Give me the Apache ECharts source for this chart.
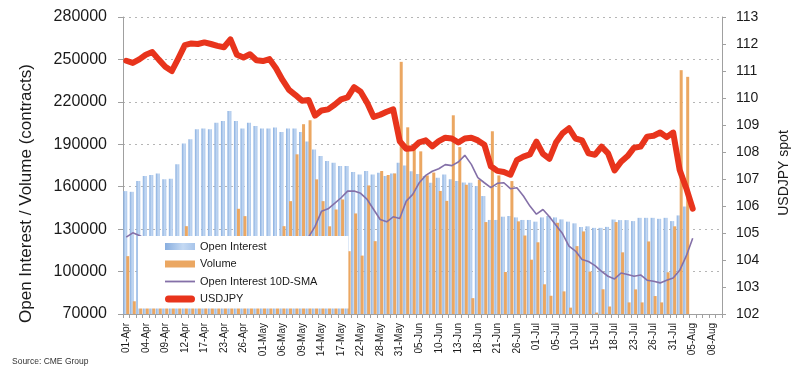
<!DOCTYPE html>
<html>
<head>
<meta charset="utf-8">
<script src="https://cdn.jsdelivr.net/npm/echarts@6/dist/echarts.min.js"></script>
<style>
  html, body { margin: 0; padding: 0; background: #fff; }
  #chart { width: 799px; height: 375px; }
</style>
</head>
<body>
<div id="chart"></div>
<script>
// trading days, 01-Apr .. 09-Aug (Good Friday, Memorial Day, 4th of July excluded)
const dates = [
  '01-Apr','02-Apr','03-Apr','04-Apr','05-Apr','08-Apr','09-Apr','10-Apr','11-Apr','12-Apr',
  '15-Apr','16-Apr','17-Apr','18-Apr','22-Apr','23-Apr','24-Apr','25-Apr','26-Apr','29-Apr','30-Apr',
  '01-May','02-May','03-May','06-May','07-May','08-May','09-May','10-May','13-May','14-May',
  '15-May','16-May','17-May','20-May','21-May','22-May','23-May','24-May','28-May','29-May','30-May','31-May',
  '03-Jun','04-Jun','05-Jun','06-Jun','07-Jun','10-Jun','11-Jun','12-Jun','13-Jun','14-Jun',
  '17-Jun','18-Jun','19-Jun','20-Jun','21-Jun','24-Jun','25-Jun','26-Jun','27-Jun','28-Jun',
  '01-Jul','02-Jul','03-Jul','05-Jul','08-Jul','09-Jul','10-Jul','11-Jul','12-Jul','15-Jul',
  '16-Jul','17-Jul','18-Jul','19-Jul','22-Jul','23-Jul','24-Jul','25-Jul','26-Jul','29-Jul','30-Jul','31-Jul',
  '01-Aug','02-Aug','05-Aug','06-Aug','07-Aug','08-Aug','09-Aug'
];

const openInterest = [
  156900, 156400, 164000, 167500, 168300, 169400, 165200, 165700, 175800, 190500,
  193500, 200600, 201100, 200600, 205300, 206500, 213600, 206500, 201100, 205300, 203000,
  201100, 201100, 201800, 198700, 201100, 201100, 198700, 192000, 186400, 181700,
  178200, 177000, 174600, 174600, 170400, 168700, 171100, 168700, 169900, 167500, 169400, 177000,
  175000, 171000, 169000, 167500, 162800, 166400, 168700, 165200, 164000, 163000,
  162800, 160500, 153400, 136500, 136500, 138800, 139300, 138300, 136500, 136500,
  135300, 138300, 139300, 138300, 136900, 135300, 134100, 131500, 132000, 130900,
  130900, 131600, 136800, 136400, 136400, 135700, 138000, 138000, 138000, 137300, 138000, 135700,
  139700, 146000, null, null, null, null, null
];

const volume = [
  110900, 79000, 92000, 88000, 95000, 90000, 86000, 98000, 104000, 132100,
  96000, 88000, 84000, 91000, 80000, 93000, 102000, 144400, 139200, 97000, 89000,
  100000, 108000, 115000, 132100, 149800, 182900, 204200, 207000, 165200, 149800,
  132000, 143900, 151000, 114400, 141100, 111300, 160900, 121500, 171100, 168300, 169400, 248300,
  202000, 190000, 185000, 168000, 170000, 157000, 150000, 210500, 188000, 161400,
  81200, 165000, 135000, 199200, 168000, 99700, 164000, 135500, 125500, 108400,
  120700, 91000, 82900, 134500, 86000, 74500, 118000, 128400, 100000, 71000,
  87500, 75300, 135000, 113600, 78200, 87400, 78200, 121300, 82700, 78200, 99500, 132000,
  242400, 237700, null, null, null, null, null
];

const oiSma = [
  124300, 127400, 125500, 123000, 121000, 119000, 117000, 115000, 113000, 112000,
  111000, 110000, 109000, 108000, 108000, 107000, 107000, 108000, 109000, 110000, 111000,
  113000, 115000, 117000, 119000, 121000, 122000, 123000, 124300, 132000, 142700,
  144400, 148200, 152200, 156900, 156900, 155300, 151000, 143900, 136800, 135200, 138700, 137500,
  149800, 154600, 162800, 168000, 170900, 172700, 175600, 174900, 177500, 182200,
  175800, 166400, 162800, 159300, 162400, 162800, 158600, 159300, 153400, 146300,
  140600, 143900, 138700, 132800, 126900, 118000, 114500, 108500, 107100, 104200,
  100200, 96700, 94800, 99000, 97900, 96700, 97600, 93900, 93100, 92000, 93900, 95500,
  100900, 110900, 123600, null, null, null, null
];

const usdjpy = [
  111.38, 111.30, 111.43, 111.60, 111.70, 111.42, 111.16, 111.00, 111.47, 111.96,
  112.02, 112.00, 112.06, 112.00, 111.93, 111.88, 112.17, 111.60, 111.50, 111.62, 111.40,
  111.37, 111.44, 111.10, 110.67, 110.30, 110.11, 109.90, 109.93, 109.35, 109.54,
  109.58, 109.75, 109.95, 110.02, 110.40, 110.23, 109.82, 109.30, 109.38, 109.49, 109.58, 108.40,
  108.12, 108.14, 108.36, 108.43, 108.21, 108.40, 108.53, 108.50, 108.35, 108.50,
  108.53, 108.43, 108.27, 107.47, 107.30, 107.26, 107.16, 107.70, 107.83, 107.91,
  108.38, 107.93, 107.75, 108.35, 108.69, 108.88, 108.50, 108.43, 107.95, 107.90,
  108.20, 107.95, 107.32, 107.64, 107.85, 108.16, 108.20, 108.57, 108.60, 108.72, 108.55, 108.72,
  107.33, 106.67, 105.90, null, null, null, null
];

const font = 'Liberation Sans, Arial, sans-serif';
const axisGrey = '#a0a0a0';

// legend icons: thin line for the SMA, pill shaped thick line for USDJPY
const thinLineIcon = 'path://M0,0L0,0M0,2.6L30,2.6L30,4.4L0,4.4ZM30,7L30,7';
const thickLineIcon = 'path://M3.5,0L26.5,0A3.5,3.5 0 0 1 26.5,7L3.5,7A3.5,3.5 0 0 1 3.5,0Z';

const chart = echarts.init(document.getElementById('chart'));

chart.setOption({
  backgroundColor: '#fff',
  animation: false,
  textStyle: { fontFamily: font, color: '#1a1a1a' },
  grid: { left: 123, right: 76, top: 17, bottom: 61, containLabel: false },
  legend: {
    orient: 'vertical',
    left: 138,
    top: 236,
    padding: [5, 31, 4, 27],
    backgroundColor: '#fff',
    itemWidth: 30,
    itemHeight: 7,
    itemGap: 6.5,
    itemTextGap: 10,
    itemStyle: { borderWidth: 0 },
    textStyle: { fontSize: 11, color: '#1a1a1a', fontFamily: font },
    data: [
      { name: 'Open Interest', icon: 'rect' },
      { name: 'Volume', icon: 'rect' },
      { name: 'Open Interest 10D-SMA', icon: thinLineIcon },
      { name: 'USDJPY', icon: thickLineIcon }
    ]
  },
  xAxis: {
    type: 'category',
    data: dates,
    axisLine: { lineStyle: { color: axisGrey } },
    axisTick: { show: true, interval: 0, length: 4, lineStyle: { color: axisGrey } },
    axisLabel: { interval: 2, rotate: 90, fontSize: 10, margin: 9, color: '#1a1a1a' },
    splitLine: { show: false }
  },
  yAxis: [
    {
      type: 'value',
      min: 70000,
      max: 280000,
      interval: 30000,
      name: 'Open Interest / Volume (contracts)',
      nameLocation: 'middle',
      nameGap: 88,
      nameRotate: 90,
      nameTextStyle: { fontSize: 17, color: '#1a1a1a', padding: [0, 56, 0, 0] },
      axisLine: { show: true, lineStyle: { color: axisGrey } },
      axisTick: { show: true, length: 5, lineStyle: { color: axisGrey } },
      axisLabel: { fontSize: 16, margin: 16, color: '#1a1a1a', formatter: v => String(v) },
      splitLine: { show: true, lineStyle: { type: [2, 4], color: '#b5b5b5' } }
    },
    {
      type: 'value',
      min: 102,
      max: 113,
      interval: 1,
      position: 'right',
      name: 'USDJPY spot',
      nameLocation: 'middle',
      nameGap: 55,
      nameRotate: 90,
      nameTextStyle: { fontSize: 14, color: '#1a1a1a', padding: [0, 15, 0, 0] },
      axisLine: { show: true, lineStyle: { color: axisGrey } },
      axisTick: { show: true, length: 4, lineStyle: { color: axisGrey } },
      axisLabel: { fontSize: 14, margin: 14, color: '#1a1a1a' },
      splitLine: { show: false }
    }
  ],
  series: [
    {
      name: 'Open Interest',
      type: 'bar',
      data: openInterest,
      barWidth: 4,
      barGap: '-25%',
      itemStyle: {
        color: new echarts.graphic.LinearGradient(0, 0, 1, 0, [
          { offset: 0, color: '#88aedf' },
          { offset: 0.6, color: '#c4d9f3' },
          { offset: 1, color: '#a7c4ea' }
        ])
      },
      z: 2
    },
    {
      name: 'Volume',
      type: 'bar',
      data: volume,
      barWidth: 3,
      barGap: '-25%',
      itemStyle: { color: '#eba762' },
      z: 2
    },
    {
      name: 'Open Interest 10D-SMA',
      type: 'line',
      data: oiSma,
      symbol: 'none',
      lineStyle: { width: 1.6, color: '#8470a8' },
      itemStyle: { color: '#8470a8' },
      z: 3
    },
    {
      name: 'USDJPY',
      type: 'line',
      yAxisIndex: 1,
      data: usdjpy,
      symbol: 'none',
      lineStyle: { width: 6, color: '#e8341c', cap: 'round', join: 'round' },
      itemStyle: { color: '#e8341c' },
      z: 4
    }
  ],
  graphic: [
    {
      type: 'text',
      left: 12,
      top: 357,
      style: { text: 'Source: CME Group', fontSize: 8.5, fill: '#333', fontFamily: font }
    }
  ]
});
</script>
</body>
</html>
